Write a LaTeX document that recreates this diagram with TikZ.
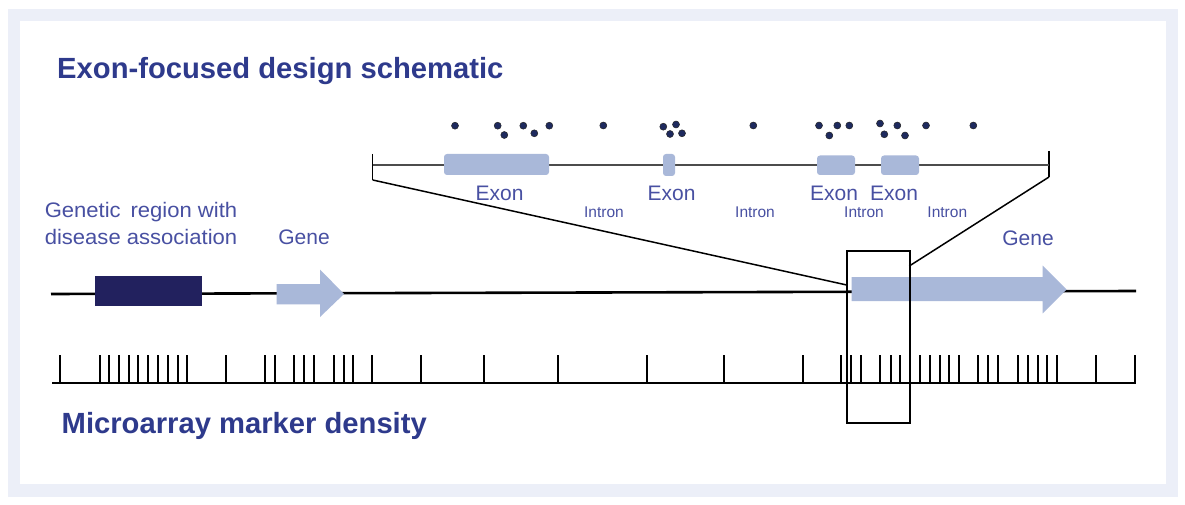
\documentclass[tikz,border=0pt]{standalone}
\usepackage{fontspec}
\setmainfont{Liberation Sans}
\definecolor{framec}{RGB}{236,239,248}
\definecolor{titlec}{RGB}{46,58,140}
\definecolor{labelc}{RGB}{72,80,162}
\definecolor{genec}{RGB}{169,184,217}
\definecolor{navyc}{RGB}{34,33,94}
\definecolor{dotc}{RGB}{30,42,94}
\begin{document}
\begin{tikzpicture}[x=1pt,y=-1pt,
  lbl/.style={font=\fontsize{21}{25}\selectfont, text=labelc, inner sep=0, anchor=base},
  intr/.style={font=\fontsize{15.5}{18}\selectfont, text=labelc, inner sep=0, anchor=base},
  ttl/.style={font=\fontsize{29.2}{34}\selectfont\bfseries, text=titlec, inner sep=0, anchor=base west},
  exonbox/.style={fill=genec, rounded corners=3pt},
  dotnode/.style={circle, fill=dotc, draw=black!85, line width=0.5pt, inner sep=0, minimum size=7pt},
  mtick/.style={line width=2.6pt},
  thinline/.style={line width=1.5pt},
]
\useasboundingbox (0,0) rectangle (1185,505);
% frame
\fill[framec] (8,9.5) rectangle (1178,496.5);
\fill[white] (20,21) rectangle (1166,484);

% titles
\node[ttl] (title) at (57,78.5) {Exon-focused design schematic};
\node[ttl] (title2) at (61.5,433.5) {Microarray marker density};

% zoom bars and intron line
\coordinate (bl1) at (372.7,154);
\coordinate (bl2) at (372.7,180);
\coordinate (br1) at (1049,151);
\coordinate (br2) at (1049,177);
\coordinate (il) at (372.7,165);
\coordinate (ir) at (1049,165);
\draw[thinline] (bl1) -- (bl2);
\draw[thinline] (br1) -- (br2);
\draw[line width=2pt, black!70] (il) -- (ir);

% exons
\fill[exonbox] (444,154) rectangle (549,175);
\fill[exonbox] (663,154) rectangle (675,176);
\fill[exonbox] (817,155.5) rectangle (855,175);
\fill[exonbox] (881,155.5) rectangle (919,175);

% dots
\foreach \x/\y [count=\i] in {455/125.7, 497.7/125.7, 504.3/135, 523.3/125.7, 534.3/133.3, 549.3/125.7,
  603.3/125.5, 663.3/126.7, 676/124.5, 670/134, 682/133.3, 753.3/125.5,
  819/125.5, 829.3/135.5, 837.3/125.5, 849.3/125.5, 880/123.5, 884.3/134.3, 897.3/125.5, 905/135.5,
  926/125.5, 973.3/125.5}
  \node[dotnode] (dot\i) at (\x,\y) {};

% exon / intron labels
\node[lbl] (ex1) at (499.5,200.7) {Exon};
\node[lbl] (ex2) at (671.5,200.7) {Exon};
\node[lbl] (ex3) at (834,200.7) {Exon};
\node[lbl] (ex4) at (894,200.7) {Exon};
\node[intr] (in1) at (604,217.3) {Intron};
\node[intr] (in2) at (755,217.3) {Intron};
\node[intr] (in3) at (864,217.3) {Intron};
\node[intr] (in4) at (947.3,217.3) {Intron};

% main line
\coordinate (ml) at (51,294);
\coordinate (mr) at (1136,291);
\draw[line width=2.6pt] (ml) -- (mr);

% disease region
\fill[navyc] (95,275.7) rectangle (201.7,306);
\node[lbl] (gr1) at (141,217.3) {\scalebox{1.05}[1]{Genetic\, region with}};
\node[lbl] (gr2) at (141,244) {\scalebox{1.05}[1]{disease association}};

% genes
\fill[genec] (276.7,284) -- (320,284) -- (320,269.5) -- (344,294) -- (320,317) -- (320,304.3) -- (276.7,304.3) -- cycle;
\node[lbl] (gene1) at (304,244) {Gene};
\fill[genec] (851.7,277) -- (1042.7,277) -- (1042.7,265.7) -- (1066.7,289.5) -- (1042.7,313.3) -- (1042.7,301) -- (851.7,301) -- cycle;
\node[lbl] (gene2) at (1028,245) {Gene};

% marker density line
\coordinate (tl) at (52,383);
\coordinate (tr) at (1136,383);
\draw[line width=2.6pt] (tl) -- (tr);
\foreach \x in {60,100,109,119,129,138,148,158,168,178,187,226,265,275,294,304,314,334,344,353,372,421,484,558,
  647,724,803,841,851,861,880,891,900,920,930,940,949,959,978,988,998,1018,1028,1038,1047,1057,1096,1135}
  \draw[mtick] (\x,383) -- (\x,354.5);

% zoom box and connectors
\node[draw, thinline, minimum width=63.3pt, minimum height=172.3pt, inner sep=0, anchor=north west] (zbox) at (846,250) {};
\coordinate (zl) at (846.7,285);
\coordinate (zr) at (909.3,266);
\draw[thinline] (bl2) -- (zl);
\draw[thinline] (br2) -- (zr);
\end{tikzpicture}
\end{document}
